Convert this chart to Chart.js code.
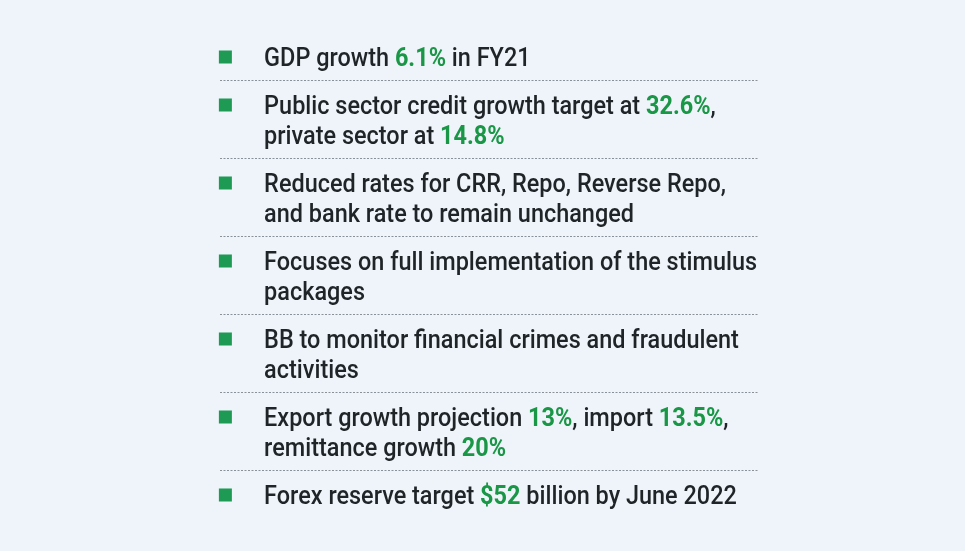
<!DOCTYPE html>
<html>
<head>
<meta charset="utf-8">
<script src="https://cdn.jsdelivr.net/npm/chart.js@4"></script>
<style>
    html, body { margin: 0; padding: 0; background: #eef4f9; }
    #wrap { width: 965px; height: 551px; position: relative; }
</style>
</head>
<body>
<div id="wrap"><canvas id="chart"></canvas></div>
<script>
// 項目テキスト (*...* は緑の太字部分)
const rowLines = [
    ['GDP growth *6.1%* in FY21'],
    ['Public sector credit growth target at *32.6%*,', 'private sector at *14.8%*'],
    ['Reduced rates for CRR, Repo, Reverse Repo,', 'and bank rate to remain unchanged'],
    ['Focuses on full implementation of the stimulus', 'packages'],
    ['BB to monitor financial crimes and fraudulent', 'activities'],
    ['Export growth projection *13%*, import *13.5%*,', 'remittance growth *20%*'],
    ['Forex reserve target *$52* billion by June 2022']
];

// レイアウト定数 (単位 = テキスト1行分)
const ROW_GAP = 1.6;
const BULLET_X = 0.01;
const TEXT_X = 0.082;
const FONT_SIZE = 25.5;
const TEXT_SCALE_X = 0.92;
const FONT_FAMILY = 'Roboto, "Noto Sans", sans-serif';

const textColor = '#1f2428';
const greenText = '#199646';
const bulletColor = '#1f9a55';
const dotColor = '#8a9198';

// 行数から各項目の位置を積み上げる
const bulletY = [];
let acc = 0;
rowLines.forEach(lines => {
    bulletY.push(acc);
    acc += lines.length - 1 + ROW_GAP;
});
const separatorY = bulletY.slice(1).map(v => v - ROW_GAP / 2);

// 1行ずつ(太字部分込み)描画
function drawRichLine(ctx, line, x, y) {
    ctx.save();
    ctx.translate(x, y + FONT_SIZE * 0.355);
    ctx.scale(TEXT_SCALE_X, 1);
    let cx = 0;
    line.split('*').forEach((part, k) => {
        if (!part) return;
        const bold = k % 2 === 1;
        ctx.font = (bold ? '700 ' : '500 ') + FONT_SIZE + 'px ' + FONT_FAMILY;
        ctx.fillStyle = bold ? greenText : textColor;
        ctx.fillText(part, cx, 0);
        cx += ctx.measureText(part).width;
    });
    ctx.restore();
}

const listTextPlugin = {
    id: 'listText',
    afterDatasetsDraw(chart) {
        const { ctx, scales: { x, y } } = chart;
        const left = x.getPixelForValue(TEXT_X);
        ctx.save();
        ctx.textBaseline = 'alphabetic';
        rowLines.forEach((lines, i) => {
            lines.forEach((line, j) => {
                drawRichLine(ctx, line, left, y.getPixelForValue(bulletY[i] + j));
            });
        });
        ctx.restore();
    }
};

const ctx = document.getElementById('chart').getContext('2d');
new Chart(ctx, {
    type: 'scatter',
    data: {
        datasets: [{
            data: bulletY.map(v => ({ x: BULLET_X, y: v })),
            pointStyle: 'rect',
            pointRadius: 9.2,
            pointHoverRadius: 9.2,
            backgroundColor: bulletColor,
            borderWidth: 0,
            clip: false
        }]
    },
    options: {
        responsive: true,
        maintainAspectRatio: false,
        animation: false,
        events: [],
        layout: { autoPadding: false, padding: { left: 220, right: 207, top: 0, bottom: 0 } },
        plugins: {
            legend: { display: false },
            tooltip: { enabled: false }
        },
        scales: {
            x: { type: 'linear', display: false, min: 0, max: 1 },
            y: {
                type: 'linear',
                reverse: true,
                min: -1.9,
                max: 16.467,
                afterBuildTicks: scale => {
                    scale.ticks = separatorY.map(v => ({ value: v }));
                },
                afterFit: scale => { scale.width = 0; },
                ticks: { display: false },
                grid: { color: dotColor, lineWidth: 1, drawTicks: false },
                border: { display: false, dash: [2, 1.5] }
            }
        }
    },
    plugins: [listTextPlugin]
});
</script>
</body>
</html>
